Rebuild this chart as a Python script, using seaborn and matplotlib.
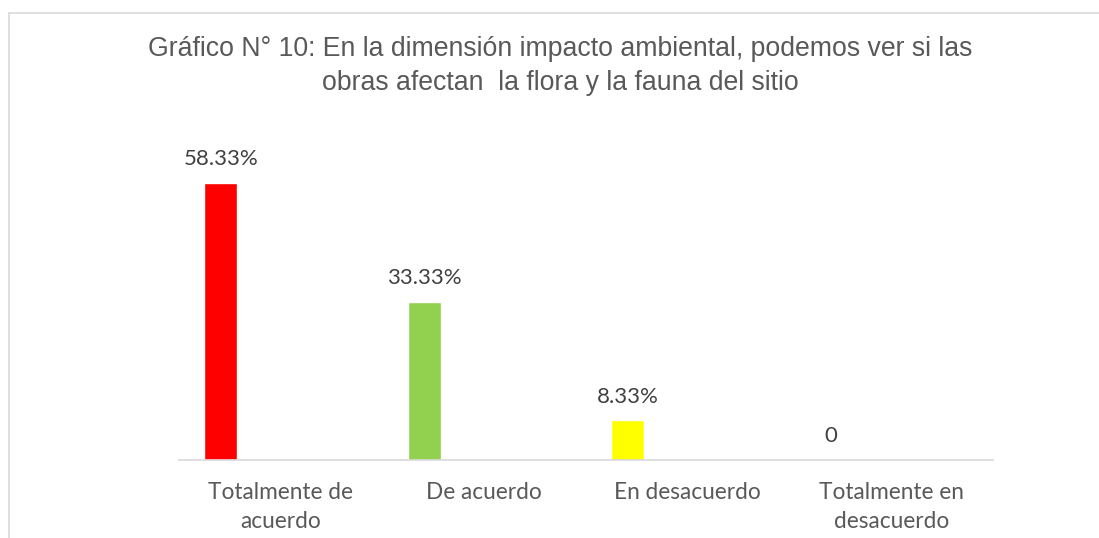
import matplotlib
matplotlib.use("Agg")
import matplotlib.pyplot as plt
import seaborn as sns
import pandas as pd
from matplotlib.lines import Line2D

categories = ["Totalmente de\nacuerdo", "De acuerdo", "En desacuerdo", "Totalmente en\ndesacuerdo"]
values = [58.33, 33.33, 8.33, 0.0]
value_labels = ["58.33%", "33.33%", "8.33%", "0"]
colors = ["#FF0000", "#92D050", "#FFFF00", "#FFFFFF"]
title = "Gráfico N° 10: En la dimensión impacto ambiental, podemos ver si las\nobras afectan  la flora y la fauna del sitio"

sns.set_theme(style="white")
plt.rcParams['font.family'] = ['Lato', 'DejaVu Sans']

W, H = 1099, 538
fig = plt.figure(figsize=(W / 100, H / 100), dpi=100)
ax = fig.add_axes([179 / W, 78 / H, (993 - 179) / W, (460 - 128) / H])

df = pd.DataFrame({"cat": categories, "val": values})
sns.barplot(data=df, x="cat", y="val", hue="cat", palette=colors, width=0.162,
            legend=False, ax=ax, saturation=1)

shift = -0.295
for p in ax.patches:
    p.set_x(p.get_x() + shift)

for c, lbls in zip(ax.containers, [[l] for l in value_labels]):
    ax.bar_label(c, labels=lbls, padding=10, fontsize=16, color="#404040",
                 family=['Lato', 'DejaVu Sans'])

ax.set_ylim(0, 70)
ax.set_xlim(-0.5, 3.5)
ax.set_xlabel("")
ax.set_ylabel("")
ax.set_yticks([])
for s in ["top", "left", "right"]:
    ax.spines[s].set_visible(False)
ax.spines["bottom"].set_color("#d9d9d9")
ax.spines["bottom"].set_linewidth(1.2)
ax.tick_params(axis="x", length=0, pad=16, labelsize=16.3, labelcolor="#595959")
for t in ax.get_xticklabels():
    t.set_linespacing(1.44)

fig.text(560 / W, 1 - 66.5 / H, title, ha="center", va="center", fontsize=19.2,
         color="#595959", family=["Liberation Sans", "DejaVu Sans"], linespacing=1.4)

# outer chart border
fig.add_artist(Line2D([8.5 / W, 1.0], [1 - 12.5 / H, 1 - 12.5 / H], transform=fig.transFigure,
                      color="#d9d9d9", lw=1.2))
fig.add_artist(Line2D([8.5 / W, 8.5 / W], [0.0, 1 - 12.5 / H], transform=fig.transFigure,
                      color="#d9d9d9", lw=1.2))

fig.savefig("out.png", dpi=100, facecolor="white")
